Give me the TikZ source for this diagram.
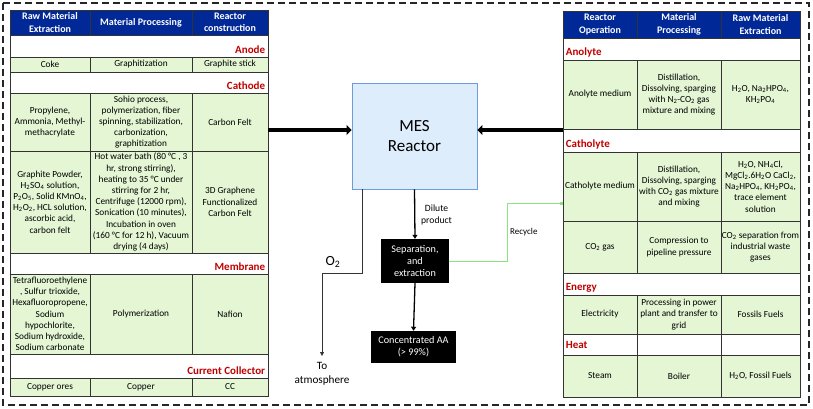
\documentclass[tikz,border=0pt]{standalone}
\usepackage{fontspec}
\setmainfont{Carlito}
\usetikzlibrary{calc}
\usetikzlibrary{arrows.meta}
\definecolor{hdrblue}{RGB}{0,40,150}
\definecolor{cellgreen}{RGB}{228,246,212}
\definecolor{labelred}{RGB}{192,0,0}
\definecolor{mesfill}{RGB}{222,237,251}
\definecolor{mesline}{RGB}{110,155,220}
\definecolor{recgreen}{RGB}{140,225,130}
\newcommand{\chs}[1]{\textsubscript{#1}}

\begin{document}
\begin{tikzpicture}[x=1pt,y=-1pt,
    every node/.style={inner sep=1pt, align=center, font=\fontsize{9.3}{11.2}\selectfont},
    cell/.style={draw=black!80, line width=0.7pt, fill=cellgreen},
    band/.style={draw=black!80, line width=0.7pt, fill=white},
    hdr/.style={draw=black!80, line width=0.7pt, fill=hdrblue, text=white, font=\fontsize{10}{12.5}\selectfont\bfseries},
    seclabel/.style={text=labelred, font=\fontsize{11}{12}\selectfont\bfseries},
    blackbox/.style={fill=black, text=white, font=\fontsize{10.2}{12.2}\selectfont},
    bigarrow/.style={line width=3.6pt, -{Triangle[length=5pt,width=10pt]}},
    flow/.style={line width=1.3pt, -{Triangle[length=4pt,width=5pt]}},
  ]
  \useasboundingbox (0,0) rectangle (813,409);
  \draw[black!85, line width=1.4pt, dash pattern=on 7pt off 4pt] (3,3) rectangle (809,405);

  % left table
  \node[hdr, minimum width=80, minimum height=25] (lh1) at (50,22.5) {Raw Material\\Extraction};
  \node[hdr, minimum width=102, minimum height=25] (lh2) at (141,22.5) {Material Processing};
  \node[hdr, minimum width=76, minimum height=25] (lh3) at (230,22.5) {Reactor\\construction};
  \foreach \yc/\h/\n/\lab in {46/22/anode/Anode, 82.5/21/cathode/Cathode, 263.5/21/membrane/Membrane, 366/24/collector/Current Collector} {
    \node[band, minimum width=258, minimum height=\h] (\n band) at (139,\yc) {};
    \node[seclabel, anchor=south east] (\n) at ([shift={(-2,-3)}]\n band.south east) {\lab};
  }
  \foreach \ya/\yb/\n/\ta/\tb/\tc in {
      57/72/1/Coke/Graphitization/Graphite stick,
      93/151/2/{Propylene,\\Ammonia, Methyl-\\methacrylate}/{Sohio process,\\polymerization, fiber\\spinning, stabilization,\\carbonization,\\graphitization}/Carbon Felt,
      151/253/3/{Graphite Powder,\\H\chs{2}SO\chs{4} solution,\\P\chs{2}O\chs{5}, Solid KMnO\chs{4},\\H\chs{2}O\chs{2}, HCL solution,\\ascorbic acid,\\carbon felt}/{Hot water bath (80 °C , 3\\hr, strong stirring),\\heating to 35 °C under\\stirring for 2 hr,\\Centrifuge (12000 rpm),\\Sonication (10 minutes),\\Incubation in oven\\(160 °C for 12 h), Vacuum\\drying (4 days)}/{3D Graphene\\Functionalized\\Carbon Felt},
      274/354/4/{Tetrafluoroethylene\\, Sulfur trioxide,\\Hexafluoropropene,\\Sodium\\hypochlorite,\\Sodium hydroxide,\\Sodium carbonate}/Polymerization/Nafion,
      378/396/5/Copper ores/Copper/CC} {
    \node[cell, minimum width=80, minimum height={\yb-\ya}] (la\n) at (50,{(\ya+\yb)/2}) {\ta};
    \node[cell, minimum width=102, minimum height={\yb-\ya}] (lb\n) at (141,{(\ya+\yb)/2}) {\tb};
    \node[cell, minimum width=76, minimum height={\yb-\ya}] (lc\n) at (230,{(\ya+\yb)/2}) {\tc};
  }

  % right table
  \node[hdr, minimum width=74, minimum height=27] (rh1) at (600,24.5) {Reactor\\Operation};
  \node[hdr, minimum width=84, minimum height=27] (rh2) at (679,24.5) {Material\\Processing};
  \node[hdr, minimum width=79, minimum height=27] (rh3) at (760.5,24.5) {Raw Material\\Extraction};
  \foreach \yc/\h/\n/\lab in {49/22/anolyte/Anolyte, 140.5/23/catholyte/Catholyte, 284/22/energy/Energy} {
    \node[band, minimum width=237, minimum height=\h] (\n band) at (681.5,\yc) {};
    \node[seclabel, anchor=south west] (\n) at ([shift={(2,-2)}]\n band.south west) {\lab};
  }
  \foreach \x/\w/\n in {600/74/1, 679/84/2, 760.5/79/3}
    \node[band, minimum width=\w, minimum height=21] (heat\n) at (\x,344.5) {};
  \node[seclabel, anchor=west] (heat) at ([xshift=2]heat1.west) {Heat};
  \foreach \ya/\yb/\n/\ta/\tb/\tc in {
      60/129/1/Anolyte medium/{Distillation,\\Dissolving, sparging\\with N\chs{2}-CO\chs{2} gas\\mixture and mixing}/{H\chs{2}O, Na\chs{2}HPO\chs{4},\\KH\chs{2}PO\chs{4}},
      152/221/2/Catholyte medium/{Distillation,\\Dissolving, sparging\\with CO\chs{2} gas mixture\\and mixing}/{H\chs{2}O, NH\chs{4}Cl,\\MgCl\chs{2}.6H\chs{2}O CaCl\chs{2},\\Na\chs{2}HPO\chs{4}, KH\chs{2}PO\chs{4},\\trace element\\solution},
      221/273/3/CO\chs{2} gas/{Compression to\\pipeline pressure}/{CO\chs{2} separation from\\industrial waste\\gases},
      295/334/4/Electricity/{Processing in power\\plant and transfer to\\grid}/Fossils Fuels,
      355/397/5/Steam/Boiler/{H\chs{2}O, Fossil Fuels}} {
    \node[cell, minimum width=74, minimum height={\yb-\ya}] (ra\n) at (600,{(\ya+\yb)/2}) {\ta};
    \node[cell, minimum width=84, minimum height={\yb-\ya}] (rb\n) at (679,{(\ya+\yb)/2}) {\tb};
    \node[cell, minimum width=79, minimum height={\yb-\ya}] (rc\n) at (760.5,{(\ya+\yb)/2}) {\tc};
  }

  % reactor and products
  \node[draw=mesline, line width=0.8pt, fill=mesfill, minimum width=125, minimum height=106,
        font=\fontsize{17}{20.5}\selectfont] (mes) at (414.5,136) {MES\\Reactor};
  \node[blackbox, minimum width=68, minimum height=44] (sep) at (415,261) {Separation,\\and\\extraction};
  \node[blackbox, minimum width=85, minimum height=32] (conc) at (413.5,347) {Concentrated AA\\(> 99\%)};
  \node[anchor=west, font=\fontsize{9.6}{11.5}\selectfont] (dilute) at (420,215) {Dilute\\product};
  \node[font=\fontsize{14}{16}\selectfont] (o2) at (333,262) {O\textsubscript{2}};
  \node[anchor=north, font=\fontsize{11.2}{14.5}\selectfont] (atm) at (322,361) {To\\atmosphere};
  \node[anchor=west, font=\fontsize{9}{10}\selectfont] (recycle) at (509,232) {Recycle};

  \coordinate (armY) at (0,130);
  \coordinate (recY) at (0,203);
  \draw[bigarrow] (lc2.east |- armY) -- (mes.west |- armY);
  \draw[bigarrow] (ra1.west |- armY) -- (mes.east |- armY);
  \draw[flow] (mes.south) -- (sep.north);
  \draw[flow] (sep.south) -- (conc.north);
  \draw[black!80, line width=0.8pt, -{Triangle[length=4pt,width=4pt]}]
    ([xshift=11]mes.south west) -- ++(0,84) -| ([yshift=5]atm.north);
  \draw[recgreen, line width=0.7pt, -{Square[length=3pt,width=3pt]}]
    (sep.east) -- ++(58,0) |- (ra2.west |- recY);
\end{tikzpicture}
\end{document}
